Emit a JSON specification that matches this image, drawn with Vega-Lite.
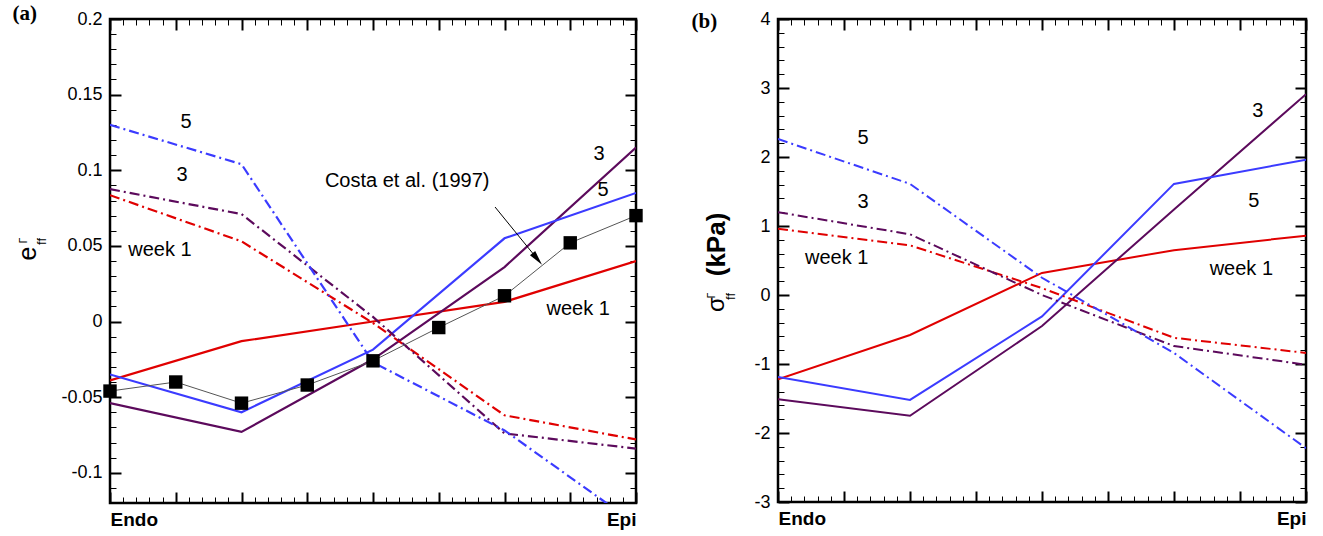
{
  "$schema": "https://vega.github.io/schema/vega-lite/v6.json",
  "padding": {"left": 10, "top": 0, "right": 5, "bottom": 0},
  "autosize": {"type": "pad"},
  "background": "white",
  "config": {
    "view": {"stroke": "black", "strokeWidth": 2.5},
    "font": "Liberation Sans",
    "axis": {"grid": false, "domain": false, "labelFont": "Liberation Sans", "labelColor": "black", "tickColor": "black", "titleColor": "black", "titleFont": "Liberation Sans", "labelOverlap": false, "labelBound": false, "labelFontSize": 18, "minExtent": 0, "titlePadding": 0}
  },
  "datasets": {
    "aSolid": [
      {"x": 0, "v": -0.039, "s": "1"}, {"x": 2, "v": -0.013, "s": "1"}, {"x": 4, "v": 0.0, "s": "1"}, {"x": 6, "v": 0.013, "s": "1"}, {"x": 8, "v": 0.040, "s": "1"},
      {"x": 0, "v": -0.054, "s": "3"}, {"x": 2, "v": -0.073, "s": "3"}, {"x": 4, "v": -0.025, "s": "3"}, {"x": 6, "v": 0.036, "s": "3"}, {"x": 8, "v": 0.115, "s": "3"},
      {"x": 0, "v": -0.035, "s": "5"}, {"x": 2, "v": -0.060, "s": "5"}, {"x": 4, "v": -0.0186, "s": "5"}, {"x": 6, "v": 0.055, "s": "5"}, {"x": 8, "v": 0.085, "s": "5"}
    ],
    "aDash": [
      {"x": 0, "v": 0.0835, "s": "1"}, {"x": 2, "v": 0.053, "s": "1"}, {"x": 4, "v": -0.001, "s": "1"}, {"x": 6, "v": -0.062, "s": "1"}, {"x": 8, "v": -0.078, "s": "1"},
      {"x": 0, "v": 0.0875, "s": "3"}, {"x": 2, "v": 0.071, "s": "3"}, {"x": 4, "v": 0.003, "s": "3"}, {"x": 6, "v": -0.074, "s": "3"}, {"x": 8, "v": -0.084, "s": "3"},
      {"x": 0, "v": 0.130, "s": "5"}, {"x": 2, "v": 0.104, "s": "5"}, {"x": 4, "v": -0.027, "s": "5"}, {"x": 6, "v": -0.072, "s": "5"}, {"x": 8, "v": -0.134, "s": "5"}
    ],
    "costa": [
      {"x": 0, "v": -0.046}, {"x": 1, "v": -0.040}, {"x": 2, "v": -0.054}, {"x": 3, "v": -0.042}, {"x": 4, "v": -0.026},
      {"x": 5, "v": -0.004}, {"x": 6, "v": 0.017}, {"x": 7, "v": 0.052}, {"x": 8, "v": 0.070}
    ],
    "aText": [
      {"x": 1.156, "v": 0.132, "t": "5"},
      {"x": 1.095, "v": 0.097, "t": "3"},
      {"x": 0.76, "v": 0.047, "t": "week 1"},
      {"x": 7.44, "v": 0.111, "t": "3"},
      {"x": 7.50, "v": 0.087, "t": "5"},
      {"x": 7.12, "v": 0.008, "t": "week 1"},
      {"x": 4.52, "v": 0.093, "t": "Costa et al. (1997)"}
    ],
    "aArrow": [{"x": 5.856, "v": 0.0757, "x2": 6.54, "v2": 0.0392}],
    "aHead": [{"x": 6.499, "v": 0.0413}],
    "bSolid": [
      {"x": 0, "v": -1.22, "s": "1"}, {"x": 2, "v": -0.58, "s": "1"}, {"x": 4, "v": 0.32, "s": "1"}, {"x": 6, "v": 0.65, "s": "1"}, {"x": 8, "v": 0.86, "s": "1"},
      {"x": 0, "v": -1.51, "s": "3"}, {"x": 2, "v": -1.75, "s": "3"}, {"x": 4, "v": -0.45, "s": "3"}, {"x": 6, "v": 1.24, "s": "3"}, {"x": 8, "v": 2.91, "s": "3"},
      {"x": 0, "v": -1.19, "s": "5"}, {"x": 2, "v": -1.52, "s": "5"}, {"x": 4, "v": -0.31, "s": "5"}, {"x": 6, "v": 1.61, "s": "5"}, {"x": 8, "v": 1.96, "s": "5"}
    ],
    "bDash": [
      {"x": 0, "v": 0.96, "s": "1"}, {"x": 2, "v": 0.72, "s": "1"}, {"x": 4, "v": 0.10, "s": "1"}, {"x": 6, "v": -0.62, "s": "1"}, {"x": 8, "v": -0.84, "s": "1"},
      {"x": 0, "v": 1.20, "s": "3"}, {"x": 2, "v": 0.88, "s": "3"}, {"x": 4, "v": 0.0, "s": "3"}, {"x": 6, "v": -0.74, "s": "3"}, {"x": 8, "v": -1.01, "s": "3"},
      {"x": 0, "v": 2.26, "s": "5"}, {"x": 2, "v": 1.61, "s": "5"}, {"x": 4, "v": 0.25, "s": "5"}, {"x": 6, "v": -0.84, "s": "5"}, {"x": 8, "v": -2.22, "s": "5"}
    ],
    "bTextL": [
      {"x": 1.29, "v": 2.28, "t": "5"},
      {"x": 1.29, "v": 1.35, "t": "3"},
      {"x": 0.89, "v": 0.54, "t": "week 1"}
    ],
    "bTextR": [
      {"x": 7.27, "v": 2.67, "t": "3"},
      {"x": 7.21, "v": 1.36, "t": "5"},
      {"x": 7.02, "v": 0.38, "t": "week 1"}
    ]
  },
  "spacing": 45,
  "align": "none",
  "hconcat": [
    {
      "width": 526,
      "height": 484,
      "resolve": {"axis": {"x": "independent", "y": "independent"}},
      "layer": [
        {
          "data": {"name": "aSolid"},
          "mark": {"type": "line", "strokeWidth": 2.2, "clip": true},
          "encoding": {
            "x": {"field": "x", "type": "quantitative", "scale": {"domain": [0, 8], "nice": false, "zero": false},
              "axis": {"orient": "bottom", "title": null, "values": [0,1,2,3,4,5,6,7,8], "offset": -11, "tickSize": 11, "tickWidth": 2,
                "labelExpr": "datum.value == 0 ? 'Endo' : (datum.value == 8 ? 'Epi' : '')",
                "labelFlush": true, "labelFontWeight": "bold", "labelFontSize": 19, "labelPadding": 7}},
            "y": {"field": "v", "type": "quantitative", "scale": {"domain": [-0.12, 0.2], "nice": false, "zero": false},
              "axis": {"orient": "left", "values": [-0.1,-0.05,0,0.05,0.1,0.15,0.2], "offset": -11, "tickSize": 11, "tickWidth": 2,
                "labelExpr": "'' + round(datum.value*100)/100", "labelPadding": 8,
                "title": "e", "titleFontSize": 25, "titleFontWeight": "normal", "titleAngle": -90,
                "titleX": -86, "titleY": 234, "titleAlign": "center", "titleBaseline": "alphabetic"}},
            "color": {"field": "s", "type": "nominal", "scale": {"domain": ["1", "3", "5"], "range": ["#e00000", "#5c0a5c", "#3b3bff"]}, "legend": null}
          }
        },
        {
          "data": {"name": "aDash"},
          "mark": {"type": "line", "strokeWidth": 2.2, "strokeDash": [10, 4, 2, 4], "clip": true},
          "encoding": {
            "x": {"field": "x", "type": "quantitative", "scale": {"domain": [0, 8], "nice": false, "zero": false},
              "axis": {"orient": "bottom", "title": null, "labels": false, "offset": -6, "tickSize": 6, "tickWidth": 1,
                "values": [0,0.2,0.4,0.6,0.8,1,1.2,1.4,1.6,1.8,2,2.2,2.4,2.6,2.8,3,3.2,3.4,3.6,3.8,4,4.2,4.4,4.6,4.8,5,5.2,5.4,5.6,5.8,6,6.2,6.4,6.6,6.8,7,7.2,7.4,7.6,7.8,8]}},
            "y": {"field": "v", "type": "quantitative", "scale": {"domain": [-0.12, 0.2], "nice": false, "zero": false},
              "axis": {"orient": "left", "labels": false, "offset": -6, "tickSize": 6, "tickWidth": 1,
                "values": [-0.12,-0.11,-0.1,-0.09,-0.08,-0.07,-0.06,-0.05,-0.04,-0.03,-0.02,-0.01,0,0.01,0.02,0.03,0.04,0.05,0.06,0.07,0.08,0.09,0.1,0.11,0.12,0.13,0.14,0.15,0.16,0.17,0.18,0.19,0.2],
                "title": "ff", "titleFontSize": 13, "titleFontWeight": "normal", "titleAngle": -90,
                "titleX": -71, "titleY": 222, "titleAlign": "center", "titleBaseline": "alphabetic"}},
            "color": {"field": "s", "type": "nominal", "scale": {"domain": ["1", "3", "5"], "range": ["#e00000", "#5c0a5c", "#3b3bff"]}, "legend": null}
          }
        },
        {
          "data": {"name": "costa"},
          "mark": {"type": "line", "strokeWidth": 1, "color": "#555555"},
          "encoding": {
            "x": {"field": "x", "type": "quantitative", "scale": {"domain": [0, 8], "nice": false, "zero": false},
              "axis": {"orient": "top", "labels": false, "values": [0,1,2,3,4,5,6,7,8], "offset": -11, "tickSize": 11, "tickWidth": 2,
                "title": "(a)", "titleFont": "Liberation Serif", "titleFontWeight": "bold", "titleFontSize": 21, "titleAngle": 0,
                "titleX": -98, "titleY": -11, "titleAlign": "left", "titleBaseline": "alphabetic"}},
            "y": {"field": "v", "type": "quantitative", "scale": {"domain": [-0.12, 0.2], "nice": false, "zero": false},
              "axis": {"orient": "right", "labels": false, "values": [-0.1,-0.05,0,0.05,0.1,0.15,0.2], "offset": -11, "tickSize": 11, "tickWidth": 2,
                "title": "Γ", "titleFontSize": 10, "titleFontWeight": "normal", "titleAngle": -90,
                "titleX": -599, "titleY": 221, "titleAlign": "center", "titleBaseline": "alphabetic"}}
          }
        },
        {
          "data": {"name": "costa"},
          "mark": {"type": "point", "shape": "square", "filled": true, "size": 180, "color": "black", "opacity": 1},
          "encoding": {
            "x": {"field": "x", "type": "quantitative", "scale": {"domain": [0, 8], "nice": false, "zero": false},
              "axis": {"orient": "top", "title": null, "labels": false, "offset": -6, "tickSize": 6, "tickWidth": 1,
                "values": [0,0.2,0.4,0.6,0.8,1,1.2,1.4,1.6,1.8,2,2.2,2.4,2.6,2.8,3,3.2,3.4,3.6,3.8,4,4.2,4.4,4.6,4.8,5,5.2,5.4,5.6,5.8,6,6.2,6.4,6.6,6.8,7,7.2,7.4,7.6,7.8,8]}},
            "y": {"field": "v", "type": "quantitative", "scale": {"domain": [-0.12, 0.2], "nice": false, "zero": false},
              "axis": {"orient": "right", "title": null, "labels": false, "offset": -6, "tickSize": 6, "tickWidth": 1,
                "values": [-0.12,-0.11,-0.1,-0.09,-0.08,-0.07,-0.06,-0.05,-0.04,-0.03,-0.02,-0.01,0,0.01,0.02,0.03,0.04,0.05,0.06,0.07,0.08,0.09,0.1,0.11,0.12,0.13,0.14,0.15,0.16,0.17,0.18,0.19,0.2]}}
          }
        },
        {
          "data": {"name": "aText"},
          "mark": {"type": "text", "fontSize": 20, "font": "Liberation Sans", "color": "black", "align": "center", "baseline": "middle"},
          "encoding": {
            "x": {"field": "x", "type": "quantitative", "scale": {"domain": [0, 8], "nice": false, "zero": false}, "axis": null},
            "y": {"field": "v", "type": "quantitative", "scale": {"domain": [-0.12, 0.2], "nice": false, "zero": false}, "axis": null},
            "text": {"field": "t"}
          }
        },
        {
          "data": {"name": "aArrow"},
          "mark": {"type": "rule", "strokeWidth": 1, "color": "black"},
          "encoding": {
            "x": {"field": "x", "type": "quantitative", "scale": {"domain": [0, 8], "nice": false, "zero": false}, "axis": null},
            "y": {"field": "v", "type": "quantitative", "scale": {"domain": [-0.12, 0.2], "nice": false, "zero": false}, "axis": null},
            "x2": {"field": "x2"},
            "y2": {"field": "v2"}
          }
        },
        {
          "data": {"name": "aHead"},
          "mark": {"type": "point", "shape": "M0,-1L0.45,1L-0.45,1Z", "filled": true, "size": 225, "color": "black", "opacity": 1, "angle": 141},
          "encoding": {
            "x": {"field": "x", "type": "quantitative", "scale": {"domain": [0, 8], "nice": false, "zero": false}, "axis": null},
            "y": {"field": "v", "type": "quantitative", "scale": {"domain": [-0.12, 0.2], "nice": false, "zero": false}, "axis": null}
          }
        }
      ]
    },
    {
      "width": 528,
      "height": 483,
      "resolve": {"axis": {"x": "independent", "y": "independent"}},
      "layer": [
        {
          "data": {"name": "bSolid"},
          "mark": {"type": "line", "strokeWidth": 2, "clip": true},
          "encoding": {
            "x": {"field": "x", "type": "quantitative", "scale": {"domain": [0, 8], "nice": false, "zero": false},
              "axis": {"orient": "bottom", "title": null, "values": [0,1,2,3,4,5,6,7,8], "offset": -11, "tickSize": 11, "tickWidth": 2,
                "labelExpr": "datum.value == 0 ? 'Endo' : (datum.value == 8 ? 'Epi' : '')",
                "labelFlush": true, "labelFontWeight": "bold", "labelFontSize": 19, "labelPadding": 7}},
            "y": {"field": "v", "type": "quantitative", "scale": {"domain": [-3, 4], "nice": false, "zero": false},
              "axis": {"orient": "left", "values": [-3,-2,-1,0,1,2,3,4], "offset": -11, "tickSize": 11, "tickWidth": 2,
                "labelExpr": "'' + round(datum.value)", "labelPadding": 8,
                "title": "σ", "titleFontSize": 24, "titleFontWeight": "normal", "titleAngle": -90,
                "titleX": -66, "titleY": 285, "titleAlign": "center", "titleBaseline": "alphabetic"}},
            "color": {"field": "s", "type": "nominal", "scale": {"domain": ["1", "3", "5"], "range": ["#e00000", "#5c0a5c", "#3b3bff"]}, "legend": null}
          }
        },
        {
          "data": {"name": "bDash"},
          "mark": {"type": "line", "strokeWidth": 2, "strokeDash": [10, 4, 2, 4], "clip": true},
          "encoding": {
            "x": {"field": "x", "type": "quantitative", "scale": {"domain": [0, 8], "nice": false, "zero": false},
              "axis": {"orient": "bottom", "title": null, "labels": false, "offset": -6, "tickSize": 6, "tickWidth": 1,
                "values": [0,0.2,0.4,0.6,0.8,1,1.2,1.4,1.6,1.8,2,2.2,2.4,2.6,2.8,3,3.2,3.4,3.6,3.8,4,4.2,4.4,4.6,4.8,5,5.2,5.4,5.6,5.8,6,6.2,6.4,6.6,6.8,7,7.2,7.4,7.6,7.8,8]}},
            "y": {"field": "v", "type": "quantitative", "scale": {"domain": [-3, 4], "nice": false, "zero": false},
              "axis": {"orient": "left", "labels": false, "offset": -6, "tickSize": 6, "tickWidth": 1,
                "values": [-3,-2.8,-2.6,-2.4,-2.2,-2,-1.8,-1.6,-1.4,-1.2,-1,-0.8,-0.6,-0.4,-0.2,0,0.2,0.4,0.6,0.8,1,1.2,1.4,1.6,1.8,2,2.2,2.4,2.6,2.8,3,3.2,3.4,3.6,3.8,4],
                "title": "ff", "titleFontSize": 13, "titleFontWeight": "normal", "titleAngle": -90,
                "titleX": -50, "titleY": 277, "titleAlign": "center", "titleBaseline": "alphabetic"}},
            "color": {"field": "s", "type": "nominal", "scale": {"domain": ["1", "3", "5"], "range": ["#e00000", "#5c0a5c", "#3b3bff"]}, "legend": null}
          }
        },
        {
          "data": {"name": "bTextL"},
          "mark": {"type": "text", "fontSize": 20, "font": "Liberation Sans", "color": "black", "align": "center", "baseline": "middle"},
          "encoding": {
            "x": {"field": "x", "type": "quantitative", "scale": {"domain": [0, 8], "nice": false, "zero": false},
              "axis": {"orient": "top", "labels": false, "values": [0,1,2,3,4,5,6,7,8], "offset": -11, "tickSize": 11, "tickWidth": 2,
                "title": "(b)", "titleFont": "Liberation Serif", "titleFontWeight": "bold", "titleFontSize": 21, "titleAngle": 0,
                "titleX": -87, "titleY": -3, "titleAlign": "left", "titleBaseline": "alphabetic"}},
            "y": {"field": "v", "type": "quantitative", "scale": {"domain": [-3, 4], "nice": false, "zero": false},
              "axis": {"orient": "right", "labels": false, "values": [-3,-2,-1,0,1,2,3,4], "offset": -11, "tickSize": 11, "tickWidth": 2,
                "title": "Γ", "titleFontSize": 10, "titleFontWeight": "normal", "titleAngle": -90,
                "titleX": -581, "titleY": 276, "titleAlign": "center", "titleBaseline": "alphabetic"}},
            "text": {"field": "t"}
          }
        },
        {
          "data": {"name": "bTextR"},
          "mark": {"type": "text", "fontSize": 20, "font": "Liberation Sans", "color": "black", "align": "center", "baseline": "middle"},
          "encoding": {
            "x": {"field": "x", "type": "quantitative", "scale": {"domain": [0, 8], "nice": false, "zero": false},
              "axis": {"orient": "top", "title": null, "labels": false, "offset": -6, "tickSize": 6, "tickWidth": 1,
                "values": [0,0.2,0.4,0.6,0.8,1,1.2,1.4,1.6,1.8,2,2.2,2.4,2.6,2.8,3,3.2,3.4,3.6,3.8,4,4.2,4.4,4.6,4.8,5,5.2,5.4,5.6,5.8,6,6.2,6.4,6.6,6.8,7,7.2,7.4,7.6,7.8,8]}},
            "y": {"field": "v", "type": "quantitative", "scale": {"domain": [-3, 4], "nice": false, "zero": false},
              "axis": {"orient": "right", "labels": false, "offset": -6, "tickSize": 6, "tickWidth": 1,
                "values": [-3,-2.8,-2.6,-2.4,-2.2,-2,-1.8,-1.6,-1.4,-1.2,-1,-0.8,-0.6,-0.4,-0.2,0,0.2,0.4,0.6,0.8,1,1.2,1.4,1.6,1.8,2,2.2,2.4,2.6,2.8,3,3.2,3.4,3.6,3.8,4],
                "title": "(kPa)", "titleFontSize": 26, "titleFontWeight": "bold", "titleAngle": -90,
                "titleX": -584, "titleY": 225, "titleAlign": "center", "titleBaseline": "middle"}},
            "text": {"field": "t"}
          }
        }
      ]
    }
  ]
}
